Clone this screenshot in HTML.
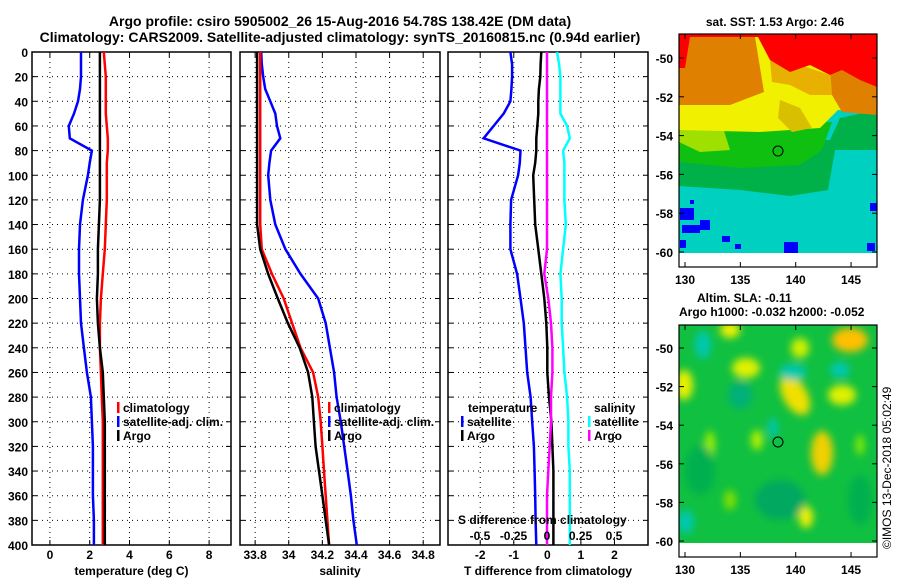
<!DOCTYPE html>
<html><head><meta charset="utf-8"><style>
body{margin:0;background:#fff}
svg{display:block;font-family:"Liberation Sans",sans-serif;font-weight:bold}
text{font-size:12px;fill:#000}
.t{font-size:14px}
</style></head><body>
<svg id="s" width="900" height="580" viewBox="0 0 900 580">
<text class="t" x="340" y="26" text-anchor="middle">Argo profile: csiro 5905002_26 15-Aug-2016 54.78S 138.42E (DM data)</text>
<text class="t" x="340" y="42" text-anchor="middle">Climatology: CARS2009. Satellite-adjusted climatology: synTS_20160815.nc (0.94d earlier)</text>
<g id="plots"></g>
<g id="maps"></g>
<text x="891" y="549" transform="rotate(-90 891 549)" style="font-size:12px;font-weight:normal">©IMOS 13-Dec-2018 05:02:49</text>
</svg>
<script>
const NS='http://www.w3.org/2000/svg';
const depths=[0,10,20,30,40,50,60,70,80,90,100,120,140,160,180,200,220,240,260,280,300,320,340,360,380,400];
// temperature (deg C)
const tempSat=[1.56,1.56,1.56,1.51,1.41,1.21,0.95,1.0,2.11,2.0,1.91,1.66,1.51,1.46,1.46,1.51,1.56,1.71,1.86,2.06,2.11,2.16,2.16,2.16,2.21,2.21];
const tempClim=[2.71,2.76,2.81,2.81,2.81,2.81,2.86,2.91,2.91,2.86,2.86,2.86,2.81,2.76,2.66,2.56,2.51,2.51,2.56,2.61,2.66,2.66,2.66,2.66,2.66,2.66];
const tempArgo=[2.51,2.51,2.51,2.51,2.51,2.51,2.51,2.51,2.51,2.51,2.51,2.51,2.46,2.41,2.41,2.36,2.41,2.51,2.66,2.71,2.76,2.76,2.76,2.76,2.76,2.76];
// salinity
const salSat=[33.836,33.84,33.848,33.86,33.89,33.92,33.93,33.95,33.895,33.885,33.878,33.89,33.92,33.98,34.07,34.175,34.22,34.245,34.27,34.285,34.31,34.33,34.35,34.37,34.385,34.405];
const salClim=[33.83,33.83,33.83,33.83,33.83,33.83,33.83,33.83,33.83,33.83,33.83,33.83,33.83,33.84,33.9,33.97,34.02,34.07,34.145,34.175,34.19,34.2,34.21,34.22,34.23,34.24];
const salArgo=[33.812,33.812,33.812,33.812,33.812,33.812,33.812,33.812,33.812,33.812,33.812,33.812,33.812,33.83,33.878,33.935,33.995,34.065,34.115,34.14,34.15,34.16,34.18,34.2,34.22,34.24];
// differences
const dTSat=[-1.1,-1.05,-1.05,-1.07,-1.1,-1.3,-1.6,-1.9,-0.8,-0.82,-0.87,-1.08,-1.1,-1.1,-0.9,-0.8,-0.7,-0.65,-0.6,-0.5,-0.45,-0.4,-0.38,-0.36,-0.35,-0.33];
const dTArgo=[-0.18,-0.2,-0.21,-0.25,-0.27,-0.27,-0.3,-0.33,-0.33,-0.36,-0.42,-0.39,-0.36,-0.27,-0.18,-0.09,-0.03,0,0,0.05,0.12,0.15,0.18,0.18,0.18,0.18];
const dSSat=[0.075,0.09,0.1,0.1,0.1,0.1,0.15,0.17,0.12,0.13,0.13,0.13,0.14,0.12,0.1,0.11,0.11,0.12,0.13,0.15,0.16,0.16,0.17,0.17,0.17,0.17];
const dSArgo=[0,0,0,0,0,0,0,0,0,0,0,0,0,0,-0.02,0.01,0.03,0.04,0.04,0.03,0.03,0.02,0.01,0,0,0];
const yTicks=[0,20,40,60,80,100,120,140,160,180,200,220,240,260,280,300,320,340,360,380,400];
const tTicks=[0,2,4,6,8], sTicks=[33.8,34,34.2,34.4,34.6,34.8], dTicks=[-2,-1,0,1,2];
const sdTicks=[-0.5,-0.25,0,0.25,0.5], sdLabels=['-0.5','-0.25','0','0.25','0.5'];
const Y0=52,Y1=545;
const ys=d=>Y0+(d/400)*(Y1-Y0);
function mk(t,a,p){const e=document.createElementNS(NS,t);for(const k in a)e.setAttribute(k,a[k]);(p||G).appendChild(e);return e;}
const G=document.getElementById('plots');
function panel(name,x0,x1,dmin,dmax,ticks,labels,title){
  const xs=v=>x0+(v-dmin)/(dmax-dmin)*(x1-x0);
  const g=mk('g',{});
  
  
  yTicks.forEach(d=>{if(d>0&&d<400){mk('line',{x1:x0,x2:x1,y1:ys(d),y2:ys(d),stroke:'#000','stroke-dasharray':'1,4'},g);}
    mk('line',{x1:x0,x2:x0+5,y1:ys(d),y2:ys(d),stroke:'#000'},g);mk('line',{x1:x1-5,x2:x1,y1:ys(d),y2:ys(d),stroke:'#000'},g);});
  ticks.forEach((v,i)=>{const x=xs(v);mk('line',{x1:x,x2:x,y1:Y0,y2:Y1,stroke:'#000','stroke-dasharray':'1,4'},g);
    mk('line',{x1:x,x2:x,y1:Y1-5,y2:Y1,stroke:'#000'},g);mk('line',{x1:x,x2:x,y1:Y0,y2:Y0+5,stroke:'#000'},g);
    const t=mk('text',{x:x,y:559,'text-anchor':'middle'},g);t.textContent=labels[i];
    
    });
  mk('rect',{x:x0,y:Y0,width:x1-x0,height:Y1-Y0,fill:'none',stroke:'#000','stroke-width':1.5},g);
  const tt=mk('text',{x:(x0+x1)/2,y:575,'text-anchor':'middle'},g);tt.textContent=title;
  
  
  return {xs,g};
}
function line(p,vals,color,name,w){
  const pts=vals.map((v,i)=>p.xs(v).toFixed(1)+','+ys(depths[i]).toFixed(1)).join(' ');
  const l=mk('polyline',{points:pts,fill:'none',stroke:color,'stroke-width':w||2.5},p.g);
  
  
}
function leg(g,x,y,color,label,name){
  mk('rect',{x:x,y:y-10,width:2.5,height:11,fill:color},g);
  const t=mk('text',{x:x+6,y:y},g);t.textContent=label;
  
  
}
yTicks.forEach(d=>{const t=mk('text',{x:28,y:ys(d)+5,'text-anchor':'end'});t.textContent=d;
  
  });
const p1=panel('temperature',32,231,-0.9,9.1,tTicks,tTicks.map(String),'temperature (deg C)');
line(p1,tempSat,'#0000ff','temp-satellite-line');line(p1,tempClim,'#ff0000','temp-climatology-line');line(p1,tempArgo,'#000','temp-argo-line');
leg(p1.g,117,412,'#ff0000','climatology','legend-climatology');leg(p1.g,117,426,'#0000ff','satellite-adj. clim.','legend-satellite');leg(p1.g,117,440,'#000','Argo','legend-argo');
const p2=panel('salinity',240,440,33.71,34.9,sTicks,['33.8','34','34.2','34.4','34.6','34.8'],'salinity');
line(p2,salSat,'#0000ff','sal-satellite-line');line(p2,salClim,'#ff0000','sal-climatology-line');line(p2,salArgo,'#000','sal-argo-line');
leg(p2.g,328,412,'#ff0000','climatology','legend-climatology');leg(p2.g,328,426,'#0000ff','satellite-adj. clim.','legend-satellite');leg(p2.g,328,440,'#000','Argo','legend-argo');
const p3=panel('difference',448,648,-2.96,3.0,dTicks,dTicks.map(String),'T difference from climatology');
line(p3,dTSat,'#0000ff','dT-satellite-line');line(p3,dTArgo,'#000','dT-argo-line');
const sx=v=>547+v*134;
const pS={xs:sx,g:p3.g};
line(pS,dSSat,'#00ffff','dS-satellite-line');line(pS,dSArgo,'#ff00ff','dS-argo-line');
let tx=mk('text',{x:468,y:412},p3.g);tx.textContent='temperature';
tx=mk('text',{x:594,y:412},p3.g);tx.textContent='salinity';
leg(p3.g,461,426,'#0000ff','satellite','legend-t-satellite');leg(p3.g,461,440,'#000','Argo','legend-t-argo');
leg(p3.g,588,426,'#00ffff','satellite','legend-s-satellite');leg(p3.g,588,440,'#ff00ff','Argo','legend-s-argo');
tx=mk('text',{x:458,y:524},p3.g);tx.textContent='S difference from climatology';
sdTicks.forEach((v,i)=>{const t=mk('text',{x:sx(v),y:540,'text-anchor':'middle'},p3.g);t.textContent=sdLabels[i];});

// maps
const M=document.getElementById('maps');
const defs=mk('defs',{},M);
defs.innerHTML='<filter id="bl" x="-50%" y="-50%" width="200%" height="200%"><feGaussianBlur stdDeviation="4"/></filter><clipPath id="c1"><rect x="679" y="34" width="198" height="219"/></clipPath><clipPath id="c2"><rect x="679" y="325" width="198" height="218"/></clipPath>';
const lonX=l=>685+(l-130)*11.07;
function mapFrame(top,bot,latTop,name){
  const g=mk('g',{},M);
  
  
  const latY=l=>latTop+(-l-50)*((top===34)?19.4:19.3);
  mk('rect',{x:679,y:top,width:198,height:bot-top,fill:'none',stroke:'#000','stroke-width':1.2},g);
  [-50,-52,-54,-56,-58,-60].forEach(l=>{const y=latY(l);mk('line',{x1:679,x2:684,y1:y,y2:y,stroke:'#000'},g);mk('line',{x1:872,x2:877,y1:y,y2:y,stroke:'#000'},g);
    const t=mk('text',{x:673,y:y+5,'text-anchor':'end'},g);t.textContent=l;});
  [130,135,140,145].forEach(l=>{const x=lonX(l);mk('line',{x1:x,x2:x,y1:top,y2:top+5,stroke:'#000'},g);mk('line',{x1:x,x2:x,y1:bot-5,y2:bot,stroke:'#000'},g);
    const t=mk('text',{x:x,y:bot+17,'text-anchor':'middle'},g);t.textContent=l;});
  return g;
}
const m1=mk('g',{'clip-path':'url(#c1)'},M);


m1.innerHTML=`<rect x="679" y="34" width="198" height="219" fill="#00d0c0"/>
<polygon fill="#00b048" points="679,140 830,140 840,118 877,110 877,150 835,150 828,190 790,196 740,190 679,186"/>
<polygon fill="#10c010" points="679,125 832,122 822,150 800,165 740,168 679,162"/>
<polygon fill="#a0e000" points="679,118 720,118 730,150 700,152 679,142"/>
<polygon fill="#f0f000" points="679,34 877,34 877,112 838,110 820,128 760,132 679,130"/>
<polygon fill="#e8b000" points="770,60 800,65 830,75 832,95 810,95 790,85 772,82"/>
<polygon fill="#d8c000" points="780,100 800,108 812,128 792,132 778,118"/>
<polygon fill="#e08000" points="679,60 690,37 755,37 764,92 730,105 679,105"/>
<polygon fill="#e08000" points="830,72 877,62 877,115 842,112 832,95"/>
<polygon fill="#ff0000" points="679,34 877,34 877,87 860,80 842,70 830,75 810,65 790,72 770,60 758,37 690,37 685,68 679,68"/>
<rect x="680" y="208" width="14" height="12" fill="#0000ff"/><rect x="682" y="225" width="18" height="8" fill="#0000ff"/>
<rect x="700" y="220" width="10" height="10" fill="#0000ff"/><rect x="680" y="240" width="6" height="8" fill="#0000ff"/>
<rect x="784" y="242" width="14" height="11" fill="#0000ff"/><rect x="722" y="236" width="8" height="6" fill="#0000ff"/>
<rect x="870" y="203" width="7" height="8" fill="#0000ff"/><rect x="867" y="243" width="8" height="8" fill="#0000ff"/>
<rect x="690" y="200" width="4" height="4" fill="#0000ff"/><rect x="735" y="244" width="6" height="5" fill="#0000ff"/>`;
mk('circle',{cx:778,cy:151,r:5,fill:'none',stroke:'#000'},M);
mapFrame(34,267,58,'sst-map-frame');
let mt=mk('text',{x:775,y:26,'text-anchor':'middle'},M);mt.textContent='sat. SST: 1.53 Argo: 2.46';
const m2=mk('g',{'clip-path':'url(#c2)'},M);


m2.innerHTML=`<rect x="679" y="325" width="198" height="218" fill="#10c040"/>
<g filter="url(#bl)">
<ellipse cx="850" cy="340" rx="18" ry="12" fill="#ffc000"/><ellipse cx="730" cy="330" rx="10" ry="8" fill="#f0f000"/>
<ellipse cx="795" cy="395" rx="12" ry="22" fill="#f0e000" transform="rotate(-30 795 395)"/>
<ellipse cx="822" cy="453" rx="11" ry="22" fill="#f0d000"/><ellipse cx="684" cy="385" rx="9" ry="15" fill="#e8f000"/>
<ellipse cx="746" cy="368" rx="14" ry="10" fill="#e0f000"/><ellipse cx="800" cy="348" rx="9" ry="10" fill="#d0f000"/>
<ellipse cx="842" cy="395" rx="14" ry="10" fill="#e0f000"/>
<ellipse cx="806" cy="517" rx="7" ry="11" fill="#f0f000"/><ellipse cx="710" cy="445" rx="5" ry="14" fill="#a0f000"/>
<ellipse cx="757" cy="440" rx="6" ry="10" fill="#b0f000"/><ellipse cx="860" cy="445" rx="4" ry="10" fill="#90f000"/>
<ellipse cx="703" cy="345" rx="8" ry="14" fill="#00c8b0"/><ellipse cx="793" cy="372" rx="14" ry="8" fill="#00c8b0"/>
<ellipse cx="840" cy="370" rx="10" ry="8" fill="#00c8b0"/><ellipse cx="773" cy="428" rx="5" ry="10" fill="#00c8b0"/>
<ellipse cx="740" cy="395" rx="12" ry="14" fill="#00b078"/><ellipse cx="686" cy="522" rx="8" ry="12" fill="#00c8b0"/>
<ellipse cx="780" cy="500" rx="25" ry="20" fill="#00a860"/><ellipse cx="700" cy="470" rx="15" ry="25" fill="#00b050"/>
<ellipse cx="860" cy="500" rx="12" ry="25" fill="#00b050"/><ellipse cx="730" cy="500" rx="6" ry="10" fill="#80e000"/>
</g>`;
mk('circle',{cx:778,cy:442,r:5,fill:'none',stroke:'#000'},M);
mapFrame(325,557,348,'sla-map-frame');
mt=mk('text',{x:697,y:302},M);mt.textContent='Altim. SLA: -0.11';
mt=mk('text',{x:679,y:316},M);mt.textContent='Argo h1000: -0.032 h2000: -0.052';
</script>
</body></html>
